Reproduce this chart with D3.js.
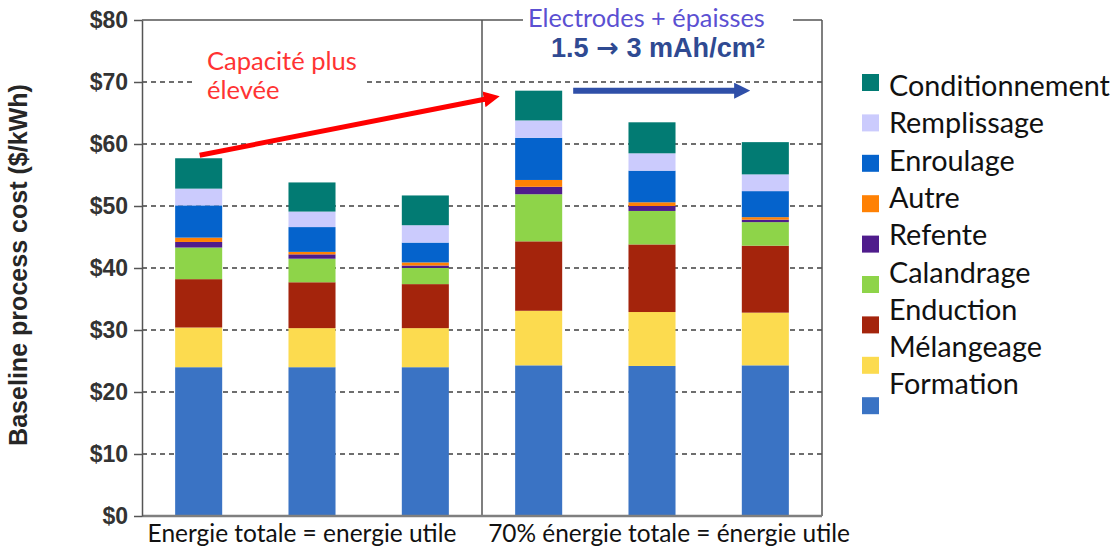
<!DOCTYPE html>
<html>
<head>
<meta charset="utf-8">
<script src="https://cdn.jsdelivr.net/npm/d3@7"></script>
<style>
  body { margin: 0; background: #fff; }
  svg { display: block; }
</style>
</head>
<body>
<svg id="chart"></svg>
<script>
// Stacked process cost bars, two scenarios of three bars each

// bars and groups
const barIds = ["A1", "A2", "A3", "B1", "B2", "B3"];
const groups = ["Energie totale = energie utile", "70% énergie totale = énergie utile"];

// stacking order, bottom to top
const series = ["Formation", "Mélangeage", "Enduction", "Calandrage", "Refente",
                "Autre", "Enroulage", "Remplissage", "Conditionnement"];
const colors = ["#3A73C4", "#FCDB4F", "#A4240C", "#8ED449", "#4F1C8C",
                "#FF8104", "#0563CC", "#CBCBFD", "#027B73"];

// values in $/kWh, one per bar
const formation       = [24.0, 24.0, 24.0, 24.3, 24.2, 24.3];
const melangeage      = [6.4, 6.3, 6.3, 8.8, 8.7, 8.5];
const enduction       = [7.8, 7.4, 7.1, 11.2, 10.9, 10.8];
const calandrage      = [5.1, 3.8, 2.6, 7.6, 5.4, 3.8];
const refente         = [0.9, 0.7, 0.4, 1.2, 0.8, 0.4];
const autre           = [0.7, 0.4, 0.5, 1.1, 0.6, 0.4];
const enroulage       = [5.2, 4.0, 3.2, 6.8, 5.1, 4.2];
const remplissage     = [2.7, 2.5, 2.8, 2.8, 2.8, 2.7];
const conditionnement = [4.9, 4.7, 4.8, 4.8, 5.0, 5.2];

const yTicks = [0, 10, 20, 30, 40, 50, 60, 70, 80];

const valueLists = [formation, melangeage, enduction, calandrage, refente,
                    autre, enroulage, remplissage, conditionnement];

// one row per bar for d3.stack
const rows = barIds.map((id, i) => {
  const r = { id: id };
  series.forEach((s, k) => { r[s] = valueLists[k][i]; });
  return r;
});

const W = 1116, H = 551;
const margin = { top: 20, right: 294, bottom: 35, left: 142 };

const svg = d3.select("#chart").attr("width", W).attr("height", H);

const x = d3.scaleBand()
  .domain(barIds)
  .range([margin.left, W - margin.right])
  .paddingInner(0.585)
  .paddingOuter(0.2925);

const y = d3.scaleLinear()
  .domain([0, 80])
  .range([H - margin.bottom, margin.top]);

const color = d3.scaleOrdinal().domain(series).range(colors);

const x0 = margin.left, x1 = W - margin.right;
const yTop = y(80), yBot = y(0);
const step = x.step();
const xMid = x0 + step * 3;

// helper: scale font so the text fills a given width
function fitFont(sel, target) {
  const w = sel.node().getComputedTextLength();
  const fs = parseFloat(sel.style("font-size"));
  sel.style("font-size", (fs * target / w) + "px");
  return sel;
}

// gridlines
svg.append("g")
  .selectAll("line")
  .data(yTicks.filter(d => d > 0 && d < 80))
  .join("line")
    .attr("x1", x0).attr("x2", x1)
    .attr("y1", d => y(d)).attr("y2", d => y(d))
    .attr("stroke", "#6e6e6e")
    .attr("stroke-width", 2)
    .attr("stroke-dasharray", "5,4");

// white box behind the red label (hides the $70 gridline there)
svg.append("rect")
  .attr("x", 195).attr("y", 45).attr("width", 168).attr("height", 62)
  .attr("fill", "#fff");

// stacked bars
const stacked = d3.stack().keys(series)(rows);
svg.append("g")
  .selectAll("g")
  .data(stacked)
  .join("g")
    .attr("fill", d => color(d.key))
  .selectAll("rect")
  .data(d => d)
  .join("rect")
    .attr("x", d => x(d.data.id))
    .attr("width", x.bandwidth())
    .attr("y", d => y(d[1]))
    .attr("height", d => y(d[0]) - y(d[1]));

// frame: top, right, divider, bottom
const frame = svg.append("g").attr("stroke", "#555").attr("stroke-width", 1.5).attr("fill", "none");
frame.append("line").attr("x1", x0).attr("x2", x1).attr("y1", yTop).attr("y2", yTop);
frame.append("line").attr("x1", x1).attr("x2", x1).attr("y1", yTop).attr("y2", yBot);
frame.append("line").attr("x1", xMid).attr("x2", xMid).attr("y1", yTop).attr("y2", yBot);
svg.append("line")
  .attr("x1", x0).attr("x2", x1).attr("y1", yBot).attr("y2", yBot)
  .attr("stroke", "#7f7f7f").attr("stroke-width", 2.5);

// y axis
const yAxis = svg.append("g")
  .attr("transform", `translate(${x0},0)`)
  .call(d3.axisLeft(y).tickValues(yTicks).tickFormat(d => "$" + d).tickSize(8).tickSizeOuter(0));
yAxis.select(".domain").attr("stroke", "#555").attr("stroke-width", 1.5);
yAxis.selectAll(".tick line").attr("stroke", "#555").attr("stroke-width", 1.5);
yAxis.selectAll(".tick text")
  .attr("x", -14)
  .style("font-family", "'Liberation Sans', Arial, sans-serif")
  .style("font-weight", "bold")
  .style("font-size", "23px")
  .attr("fill", "#333");

// y axis title
const yTitle = svg.append("text")
  .attr("transform", `translate(27,${(yTop + yBot) / 2 - 3}) rotate(-90)`)
  .attr("text-anchor", "middle")
  .style("font-family", "'Liberation Sans', Arial, sans-serif")
  .style("font-weight", "bold")
  .style("font-size", "21px")
  .attr("fill", "#262626")
  .text("Baseline process cost ($/kWh)");
fitFont(yTitle, 362);

// group labels under the axis
const groupCenters = [302, 669];
groups.forEach((g, i) => {
  const t = svg.append("text")
    .attr("x", groupCenters[i]).attr("y", 542)
    .attr("text-anchor", "middle")
    .style("font-family", "Lato, sans-serif")
    .style("font-size", "20px")
    .attr("fill", "#111")
    .text(g);
  fitFont(t, i === 0 ? 309 : 362);
});

// legend, top entry is the top of the stack
const legendItems = series.slice().reverse();
const legend = svg.append("g");
legend.selectAll("rect")
  .data(legendItems)
  .join("rect")
    .attr("x", 862)
    .attr("y", (d, i) => 74 + i * 40.4)
    .attr("width", 17).attr("height", 17)
    .attr("fill", d => color(d));
const legendText = legend.selectAll("text")
  .data(legendItems)
  .join("text")
    .attr("x", 889)
    .attr("y", (d, i) => 96 + i * 37.3)
    .style("font-family", "Lato, sans-serif")
    .style("font-size", "24px")
    .attr("fill", "#111")
    .text(d => d);
// size all legend labels from the longest one
const longest = legendText.filter(d => d === "Conditionnement");
fitFont(longest, 221);
legendText.style("font-size", longest.style("font-size"));

// arrow heads
const defs = svg.append("defs");
[["redHead", "#ff0000"], ["blueHead", "#2f4fa8"]].forEach(([id, c]) => {
  defs.append("marker")
    .attr("id", id)
    .attr("viewBox", "0 0 10 10")
    .attr("refX", 2).attr("refY", 5)
    .attr("markerWidth", 16).attr("markerHeight", 16)
    .attr("markerUnits", "userSpaceOnUse")
    .attr("orient", "auto")
    .append("path")
      .attr("d", "M0,0 L10,5 L0,10 Z")
      .attr("fill", c);
});

// red arrow: top of first bar to the first bar of the second group
const totals = rows.map(r => d3.sum(series, s => r[s]));
svg.append("line")
  .attr("x1", x("A1") + x.bandwidth() / 2 + 1).attr("y1", y(totals[0]) - 3)
  .attr("x2", x("B1") - 28).attr("y2", y(totals[3]) + 8)
  .attr("stroke", "#ff0000").attr("stroke-width", 5)
  .attr("marker-end", "url(#redHead)");

// blue arrow across the second group
svg.append("line")
  .attr("x1", x("B1") + x.bandwidth() + 11).attr("y1", y(totals[3]))
  .attr("x2", x("B3") + x.bandwidth() / 2 - 28).attr("y2", y(totals[3]))
  .attr("stroke", "#2f4fa8").attr("stroke-width", 6)
  .attr("marker-end", "url(#blueHead)");

// red note
const red1 = svg.append("text").attr("x", 207).attr("y", 70)
  .style("font-family", "Lato, sans-serif").style("font-size", "20px")
  .attr("fill", "#ff3333").text("Capacité plus");
fitFont(red1, 150);
svg.append("text").attr("x", 207).attr("y", 99)
  .style("font-family", "Lato, sans-serif").style("font-size", red1.style("font-size"))
  .attr("fill", "#ff3333").text("élevée");

// blue note, boxed over the top frame
svg.append("rect")
  .attr("x", 523).attr("y", 4).attr("width", 270).attr("height", 62)
  .attr("fill", "#fff");
const blue1 = svg.append("text").attr("x", 528).attr("y", 27)
  .style("font-family", "Lato, sans-serif").style("font-size", "20px")
  .attr("fill", "#5b50d2").text("Electrodes + épaisses");
fitFont(blue1, 237);
const blue2 = svg.append("text").attr("x", 551).attr("y", 57)
  .style("font-family", "'Liberation Sans', Arial, sans-serif")
  .style("font-weight", "bold").style("font-size", "20px")
  .attr("fill", "#2f4a92");
blue2.append("tspan").text("1.5 ");
blue2.append("tspan").style("font-family", "'DejaVu Sans', sans-serif").text("→");
blue2.append("tspan").text(" 3 mAh/cm²");
fitFont(blue2, 214);
</script>
</body>
</html>
